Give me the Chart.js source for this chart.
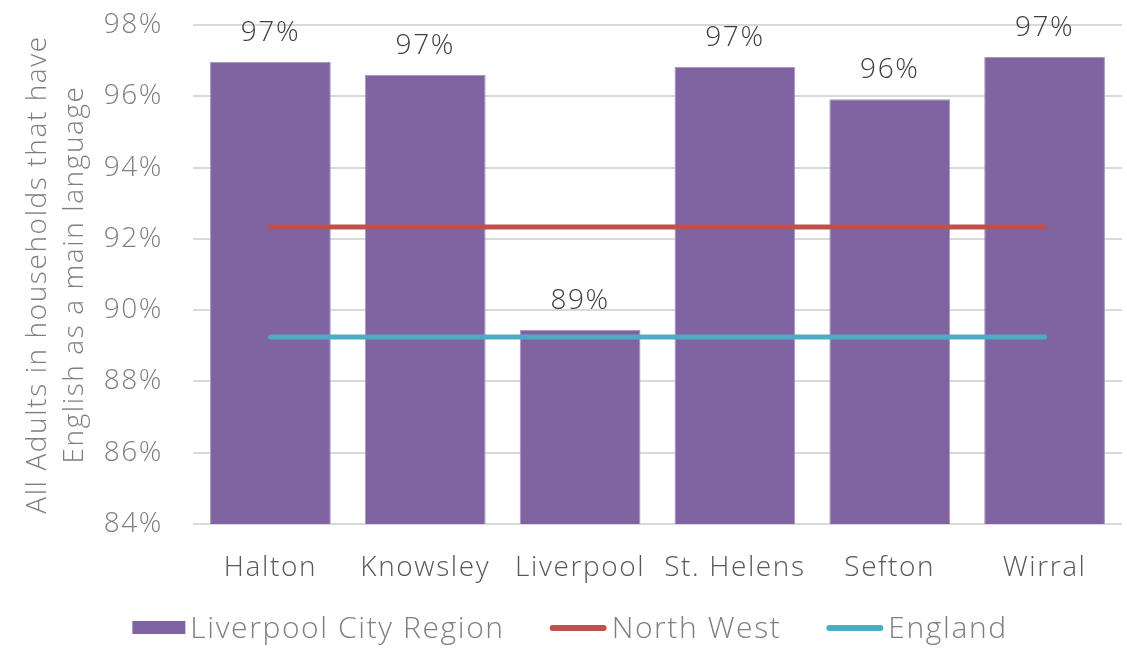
<!DOCTYPE html>
<html>
<head>
<meta charset="utf-8">
<script src="https://cdn.jsdelivr.net/npm/chart.js@4.4.0/dist/chart.umd.min.js"></script>
<style>
    html, body { margin: 0; padding: 0; background: #fff; }
    #wrap { width: 1127px; height: 649px; }
</style>
</head>
<body>
<div id="wrap"><canvas id="chart"></canvas></div>
<script>
// datos
const areas = ['Halton', 'Knowsley', 'Liverpool', 'St. Helens', 'Sefton', 'Wirral'];
const lcrValues = [96.96, 96.6, 89.44, 96.82, 95.92, 97.1];
const northWest = [92.33, 92.33, 92.33, 92.33, 92.33, 92.33];
const england = [89.25, 89.25, 89.25, 89.25, 89.25, 89.25];
const yTicks = [84, 86, 88, 90, 92, 94, 96, 98];

const FONT = '"Open Sans", Lato, sans-serif';
const SPACING = '1.6px';
const PURPLE = '#8064a2';
const RED = '#c0504d';
const CYAN = '#4bacc6';

// el texto de referencia es mas ancho: un poco de espaciado entre letras
const spacing = {
    id: 'spacing',
    beforeUpdate(chart) { chart.ctx.letterSpacing = SPACING; },
    beforeDraw(chart) { chart.ctx.letterSpacing = SPACING; }
};

// etiquetas encima de las barras
const barLabels = {
    id: 'barLabels',
    afterDatasetsDraw(chart) {
        const ctx = chart.ctx;
        const idx = chart.data.datasets.findIndex(d => d.type === 'bar');
        const meta = chart.getDatasetMeta(idx);
        ctx.save();
        ctx.font = '300 28px ' + FONT;
        ctx.fillStyle = '#404040';
        ctx.textAlign = 'center';
        ctx.textBaseline = 'bottom';
        meta.data.forEach((bar, i) => {
            ctx.fillText(Math.round(lcrValues[i]) + '%', bar.x, bar.y - 15);
        });
        ctx.restore();
    }
};

// leyenda dibujada a mano (caja para barras, linea para series)
const customLegend = {
    id: 'customLegend',
    afterDraw(chart) {
        const ctx = chart.ctx;
        const items = chart.data.datasets.map(ds => ({
            label: ds.label,
            color: ds.type === 'line' ? ds.borderColor : ds.backgroundColor,
            isLine: ds.type === 'line'
        })).sort((a, b) => a.isLine - b.isLine);
        ctx.save();
        ctx.font = '300 30px ' + FONT;
        const gap = 45;
        const symW = it => it.isLine ? 57 : 53;
        const widths = items.map(it => symW(it) + 5 + ctx.measureText(it.label).width);
        const total = widths.reduce((a, b) => a + b, 0) + gap * (items.length - 1);
        let x = 570 - total / 2;
        const y = 628;
        items.forEach((it, i) => {
            if (it.isLine) {
                ctx.strokeStyle = it.color;
                ctx.lineWidth = 6;
                ctx.lineCap = 'round';
                ctx.beginPath();
                ctx.moveTo(x + 3, y);
                ctx.lineTo(x + 54, y);
                ctx.stroke();
            } else {
                ctx.fillStyle = it.color;
                ctx.fillRect(x, y - 7, 53, 13);
            }
            ctx.fillStyle = '#7f7f7f';
            ctx.textAlign = 'left';
            ctx.textBaseline = 'middle';
            ctx.fillText(it.label, x + symW(it) + 5, y + 1);
            x += widths[i] + gap;
        });
        ctx.restore();
    }
};

new Chart(document.getElementById('chart'), {
    data: {
        labels: areas,
        datasets: [
            {
                type: 'line',
                label: 'North West',
                data: northWest,
                borderColor: RED,
                backgroundColor: RED,
                borderWidth: 5,
                borderCapStyle: 'round',
                pointRadius: 0,
                order: 1
            },
            {
                type: 'line',
                label: 'England',
                data: england,
                borderColor: CYAN,
                backgroundColor: CYAN,
                borderWidth: 5,
                borderCapStyle: 'round',
                pointRadius: 0,
                order: 1
            },
            {
                type: 'bar',
                label: 'Liverpool City Region',
                data: lcrValues,
                backgroundColor: PURPLE,
                borderColor: '#a996c2',
                borderWidth: 1,
                barPercentage: 0.78,
                categoryPercentage: 1,
                order: 2
            }
        ]
    },
    options: {
        responsive: true,
        maintainAspectRatio: false,
        animation: false,
        layout: { padding: { top: 25, right: 5, left: 0, bottom: 65 } },
        plugins: {
            legend: { display: false },
            tooltip: { enabled: false }
        },
        scales: {
            x: {
                grid: { display: false, drawTicks: false },
                border: { display: false },
                ticks: {
                    color: '#595959',
                    font: { family: FONT, size: 28, weight: '300' },
                    padding: 27,
                    maxRotation: 0,
                    autoSkip: false
                },
                afterFit(scale) { scale.height = 60; }
            },
            y: {
                min: 84,
                max: 98,
                afterBuildTicks(scale) { scale.ticks = yTicks.map(v => ({ value: v })); },
                grid: { color: '#d9d9d9', lineWidth: 2, drawTicks: false },
                border: { display: false },
                ticks: {
                    color: '#7f7f7f',
                    font: { family: FONT, size: 28, weight: '300' },
                    padding: 30,
                    callback: v => v + '%'
                },
                title: {
                    display: true,
                    text: ['All Adults in households that have', 'English as a main language'],
                    color: '#7f7f7f',
                    font: { family: FONT, size: 28, weight: '300', lineHeight: 1.32 },
                    padding: { top: 20, bottom: 4 }
                },
                afterFit(scale) {
                    scale.width = 193;
                    scale.paddingTop = 0;
                    scale.paddingBottom = 0;
                }
            }
        }
    },
    plugins: [spacing, barLabels, customLegend]
});
</script>
</body>
</html>
